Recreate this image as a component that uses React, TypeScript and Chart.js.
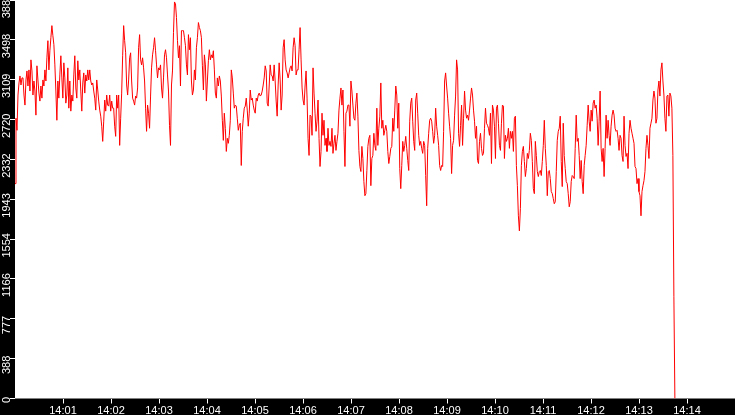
import React, { useEffect, useRef } from "react";
import { Chart, registerables } from "chart.js";

Chart.register(...registerables);

// Time axis: seconds after 14:00:00
const HOUR_PREFIX = "14";
const X_MIN_SEC = 0;
const X_MAX_SEC = 900;
const X_TICK_MINUTES = [1, 2, 3, 4, 5, 6, 7, 8, 9, 10, 11, 12, 13, 14];
const SAMPLE_INTERVAL_SEC = 1.246;

const Y_MAX = 3887;
const Y_TICKS = [0, 388, 777, 1166, 1554, 1943, 2332, 2720, 3109, 3498, 3887];

// Series values, read left to right (14:00 .. 14:03:30)
const VALUES_A = [
  2096, 2734, 2616, 2960, 3078, 3146, 3058, 3127, 3127, 2960,
  2862, 3107, 3195, 3048, 3205, 2999, 3303, 3195, 2960, 3097,
  2999, 2764, 3245, 3107, 2979, 2901, 3048, 2930, 3107, 3048,
  3205, 3097, 3323, 3490, 3205, 3392, 3519, 3637, 3539, 3451,
  3254, 2999, 2714, 3097, 2930, 3156, 3343, 3127, 2930, 3274,
  3127, 2881, 2960, 3225, 2832, 3097, 2803, 2960, 2901, 3156,
  3343, 3029, 2930, 3294, 3107, 3205, 2999, 2803, 3078, 3176,
  2979, 3156, 3097, 3205, 3107, 3205, 3097, 3058, 3078, 2999,
  2930, 2813, 3107, 3009, 2901, 2813, 2754, 2656, 2508, 2705,
  2911, 2803, 2960, 2862, 2852, 2960, 2803, 2901, 2832, 2832,
  2656, 2557, 2960, 2832, 2960, 2469, 2734, 2979, 3343, 3637,
  3490, 3372, 3058, 2960, 3107, 3323, 3372, 3097, 2930, 2901,
  2862, 2950, 2930, 3029, 3421, 3549, 3303, 3254, 3323, 3225,
  3097, 2832, 2606, 2862, 2783, 2636, 2950, 3225, 3352, 3421,
  3519, 3392, 3254, 3127, 3225, 3205, 3254, 3029, 2930, 3127,
  3352, 3402, 3323, 3156, 2999, 2665, 2469, 3058, 3195, 3568,
  3868, 3850, 3716, 3490, 3323, 3441, 3048, 3588, 3588,
];

// 14:03:30 .. 14:07:00
const VALUES_B = [
  3588, 3519, 3441, 3254, 3156, 3549, 3402, 3519, 3097, 2960,
  3009, 3205, 3107, 3421, 3519, 3667, 3618, 3588, 3519, 3245,
  3009, 3352, 3254, 2901, 3097, 3294, 3402, 3303, 3352, 3323,
  3392, 3205, 2979, 2930, 3127, 3048, 3146, 3097, 2950, 2714,
  2518, 2783, 2636, 2410, 2538, 2489, 2567, 2714, 3205, 3127,
  2979, 2832, 2862, 2852, 2734, 2616, 2665, 2685, 2273, 2606,
  2734, 2832, 2852, 2930, 2813, 2656, 2783, 3009, 2911, 2930,
  2862, 2813, 2783, 2930, 2901, 2960, 2979, 2950, 2960, 2999,
  3058, 3127, 3245, 3195, 2881, 2852, 3048, 3254, 3156, 3146,
  3097, 3254, 3097, 2901, 2754, 3058, 3274, 3107, 2813, 2960,
  3421, 3500, 3303, 3205, 3176, 3127, 3176, 3225, 3245, 3195,
  3421, 3519, 3441, 3156, 3205, 3205, 3402, 3618, 3303, 3029,
  2911, 2862, 3048, 3195, 2930, 2538, 2371, 2764, 2754, 2567,
  3225, 2979, 2783, 2606, 2705, 2911, 2538, 2263, 2410, 2783,
  2567, 2714, 2469, 2538, 2410, 2636, 2469, 2508, 2459, 2636,
  2391, 2489, 2567, 2420, 2508, 2587, 2813, 2930, 3029, 2862,
  3009, 2606, 2263, 2783, 2803, 2862,
];

// 14:07:00 .. 14:10:30
const VALUES_C = [
  2862, 2656, 3097, 2999, 2862, 2734, 2714, 2881, 2979, 2754,
  2420, 2263, 2214, 2459, 2341, 2116, 1978, 1998, 2224, 2459,
  2538, 2567, 2076, 2341, 2371, 2587, 2469, 2420, 2832, 2469,
  2636, 2754, 3078, 2636, 2714, 2567, 2616, 2665, 2606, 2410,
  2292, 2361, 2440, 2459, 2734, 2606, 2813, 3048, 2960, 2636,
  2881, 2243, 2047, 2273, 2508, 2410, 2469, 2557, 2440, 2322,
  2224, 2705, 2881, 2930, 2705, 2508, 2420, 2911, 2979, 2783,
  2567, 2469, 2508, 2440, 2391, 2508, 2469, 2175, 1880, 2440,
  2587, 2714, 2734, 2705, 2606, 2489, 2567, 2832, 2656, 2567,
  2469, 2273, 2224, 2273, 2263, 2606, 3097, 3176, 3048, 2930,
  2783, 2656, 2538, 2194, 2469, 2518, 2764, 2950, 3303, 3205,
  2587, 2459, 2665, 2862, 2469, 2734, 2999, 2813, 2734, 2764,
  2714, 2813, 2930, 3029, 2960, 2813, 2705, 2538, 2656, 2322,
  2292, 2508, 2587, 2440, 2371, 2391, 2636, 2832, 2685, 2665,
  2636, 2567, 2783, 2292, 2862, 2813, 2656, 2341, 2832, 2862,
  2685, 2469, 2420, 2685, 2862, 2852, 2341, 2567, 2508, 2538,
  2636, 2440, 2606, 2538, 2606, 2410, 2734,
];

// 14:10:30 .. 14:13:45 (ends with the drop to zero)
const VALUES_D = [
  2754, 2273, 2076, 1782, 1635, 1851, 2273, 2410, 2459, 2312,
  2165, 2243, 2391, 2341, 2420, 2587, 2518, 2312, 2047, 1998,
  2508, 2371, 2214, 2165, 2214, 2224, 2175, 2312, 2469, 2714,
  2440, 2273, 1978, 2214, 2224, 2145, 2018, 1998, 1949, 1900,
  1919, 2214, 2518, 2606, 2636, 2754, 2312, 2067, 2685, 2371,
  2243, 2116, 2096, 1998, 1870, 1919, 2116, 2175, 2165, 2145,
  2440, 2764, 2508, 2538, 2371, 2145, 2322, 2116, 1998, 2273,
  2371, 2469, 2665, 2862, 2705, 2606, 2813, 2705, 2881, 2911,
  2832, 2862, 2734, 2469, 2705, 2999, 2440, 2312, 2440, 2165,
  2440, 2764, 2538, 2714, 2567, 2469, 2656, 2764, 2813, 2764,
  2636, 2606, 2616, 2538, 2420, 2567, 2538, 2371, 2312, 2754,
  2469, 2361, 2391, 2243, 2587, 2714, 2636, 2587, 2538, 2489,
  2263, 2243, 2096, 2145, 2018, 1978, 1782, 2018, 2076, 2125,
  2214, 2440, 2567, 2469, 2341, 2636, 2685, 2734, 2911, 2999,
  2930, 2685, 2734, 3009, 3097, 2950, 3205, 3274, 3097, 2960,
  2734, 2606, 2950, 2960, 2754, 2979, 2950, 2832, 2371, 997,
  0,
];

const SERIES_VALUES = [...VALUES_A, ...VALUES_B, ...VALUES_C, ...VALUES_D];

const FONT = { family: "Liberation Sans, Arial, sans-serif", size: 11 };

const backgroundPlugin = {
  id: "bgPanels",
  beforeDraw(chart: any) {
    const { ctx, chartArea, width, height } = chart;
    ctx.save();
    ctx.fillStyle = "#000000";
    ctx.fillRect(0, 0, width, height);
    ctx.fillStyle = "#ffffff";
    ctx.fillRect(
      chartArea.left,
      chartArea.top,
      chartArea.right - chartArea.left,
      chartArea.bottom - chartArea.top
    );
    ctx.restore();
  },
};

export default function App() {
  const canvasRef = useRef<HTMLCanvasElement | null>(null);

  useEffect(() => {
    const canvas = canvasRef.current;
    if (!canvas) return;
    const points = SERIES_VALUES.map((v, i) => ({ x: X_MIN_SEC + i * SAMPLE_INTERVAL_SEC, y: v }));

    const chart = new Chart(canvas, {
      type: "line",
      data: {
        datasets: [
          {
            data: points,
            borderColor: "#ff0000",
            borderWidth: 1,
            pointRadius: 0,
            pointHoverRadius: 0,
            tension: 0,
            fill: false,
          },
        ],
      },
      options: {
        animation: false,
        responsive: true,
        maintainAspectRatio: false,
        devicePixelRatio: 1,
        layout: { padding: 0 },
        plugins: {
          legend: { display: false },
          tooltip: { enabled: false },
          title: { display: false },
        },
        events: [],
        scales: {
          x: {
            type: "linear",
            min: X_MIN_SEC,
            max: X_MAX_SEC,
            afterBuildTicks: (scale: any) => {
              scale.ticks = X_TICK_MINUTES.map((m) => ({ value: m * 60 }));
            },
            afterFit: (scale: any) => {
              scale.height = 16.5;
              scale.paddingLeft = 0;
              scale.paddingRight = 0;
            },
            ticks: {
              color: "#ffffff",
              font: FONT,
              padding: 1,
              autoSkip: false,
              minRotation: 0,
              maxRotation: 0,
              callback: (v: any) => `${HOUR_PREFIX}:${String(Math.round(Number(v) / 60)).padStart(2, "0")}`,
            },
            grid: {
              drawOnChartArea: false,
              drawTicks: true,
              tickLength: 5,
              tickColor: "#ffffff",
              tickWidth: 1,
            },
            border: { display: false },
          },
          y: {
            type: "linear",
            min: 0,
            max: Y_MAX,
            afterBuildTicks: (scale: any) => {
              scale.ticks = Y_TICKS.map((v) => ({ value: v }));
            },
            afterFit: (scale: any) => {
              scale.width = 15;
              scale.paddingTop = 0;
              scale.paddingBottom = 0;
            },
            ticks: {
              color: "#ffffff",
              font: FONT,
              autoSkip: false,
              minRotation: 90,
              maxRotation: 90,
              crossAlign: "center",
              padding: -15,
              callback: (v: any) => (Number(v) === 0 ? "0 " : `${v}    `),
            },
            grid: {
              drawOnChartArea: false,
              drawTicks: true,
              tickLength: 5,
              tickColor: "#ffffff",
              tickWidth: 1,
            },
            border: { display: false },
          },
        },
      },
      plugins: [backgroundPlugin],
    });

    return () => chart.destroy();
  }, []);

  return (
    <div style={{ position: "fixed", left: 0, top: 0, width: 735, height: 415, background: "#000" }}>
      <canvas ref={canvasRef} />
    </div>
  );
}
